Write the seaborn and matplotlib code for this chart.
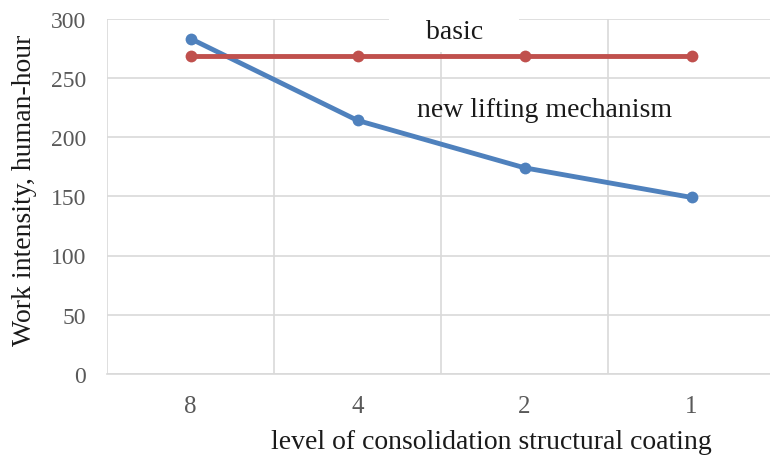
import pandas as pd
import numpy as np
import seaborn as sns
import matplotlib.pyplot as plt

# chart data
levels = ['8', '4', '2', '1']
basic = [268, 268, 268, 268]
new_lifting = [283, 214, 174, 149]
y_ticks = [0, 50, 100, 150, 200, 250, 300]

df = pd.DataFrame({
    'level': levels * 2,
    'value': basic + new_lifting,
    'series': ['basic'] * 4 + ['new lifting mechanism'] * 4,
})

sns.set_theme(style='white')
plt.rcParams['font.family'] = ['Liberation Serif', 'DejaVu Serif']

fig = plt.figure(figsize=(7.7, 4.6), dpi=100)
ax = fig.add_axes([107 / 770, 85 / 460, 668 / 770, 355.5 / 460])

sns.lineplot(data=df, x='level', y='value', hue='series', sort=False,
             palette={'basic': '#C0504D', 'new lifting mechanism': '#4F81BD'},
             hue_order=['new lifting mechanism', 'basic'],
             marker='o', markersize=8.5, markeredgewidth=0, linewidth=3.5,
             legend=False, ax=ax)

ax.set_xlim(-0.5, 3.5)
ax.set_ylim(0, 300)
ax.set_yticks(y_ticks)
ax.set_xticks(range(len(levels)))
ax.set_xticklabels(levels)
ax.set_xticks(np.arange(-0.5, len(levels), 1), minor=True)

ax.grid(axis='y', which='major', color='#d9d9d9', linewidth=1.2)
ax.grid(axis='x', which='minor', color='#d9d9d9', linewidth=1.2)
ax.set_axisbelow(True)
for side in ['top', 'right', 'left']:
    ax.spines[side].set_visible(False)
ax.spines['bottom'].set_color('#d9d9d9')
ax.spines['bottom'].set_linewidth(1.2)

ax.tick_params(axis='both', which='both', length=0, labelcolor='#595959')
ax.tick_params(axis='x', labelsize=18, pad=15)
ax.tick_params(axis='y', labelsize=17, pad=15)

ax.set_xlabel('level of consolidation structural coating', fontsize=20,
              color='#1a1a1a')
ax.xaxis.set_label_coords((491 - 107) / 668, -0.155)
ax.set_ylabel('Work intensity, human-hour', fontsize=20, color='#1a1a1a')
ax.yaxis.set_label_coords(-0.105, 0.52)

# data labels; the label box hides the gridlines behind it
ax.text(1.58, 289, '    basic    ', fontsize=20, ha='center', va='center',
        color='#1a1a1a', zorder=1.5,
        bbox=dict(facecolor='white', edgecolor='none', pad=6))
ax.text(2.12, 223, 'new lifting mechanism', fontsize=20, ha='center',
        va='center', color='#1a1a1a')

fig.savefig('out.png', dpi=100)
